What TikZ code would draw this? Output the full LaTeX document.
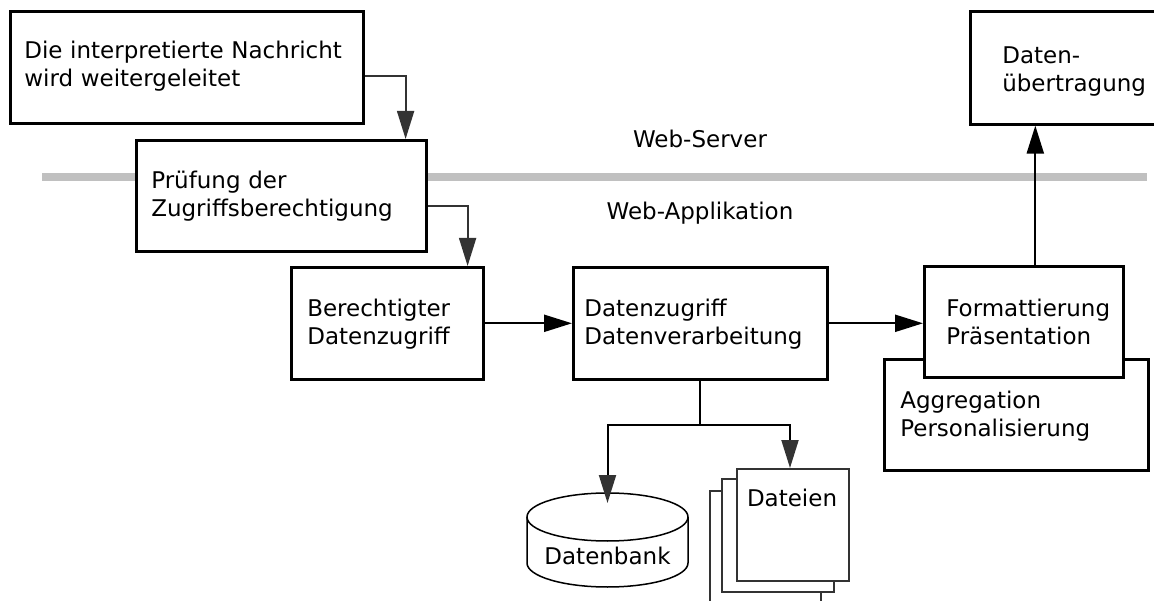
\documentclass[tikz,border=0pt]{standalone}
\usepackage{fontspec}
\setmainfont{DejaVu Sans}
\usetikzlibrary{arrows.meta,calc}
\definecolor{barfill}{HTML}{C0C0C0}
\definecolor{darkline}{HTML}{333333}
\begin{document}
\begin{tikzpicture}[x=1pt,y=-1pt,
  font=\fontsize{23pt}{28pt}\selectfont,
  box/.style={draw=black, line width=2.6pt, fill=white, anchor=north west,
    inner ysep=0pt, align=left},
  pagebox/.style={draw=darkline, line width=2pt, fill=white},
  arrblack/.style={draw=black, line width=2.2pt,
    -{Triangle[length=28pt,width=17pt]}},
  arrgray/.style={draw=darkline, line width=1.8pt,
    -{Triangle[length=28pt,width=17pt]}},
  arrsplit/.style={draw=black, line width=2pt,
    -{Triangle[length=28pt,width=17pt,color=darkline,fill=darkline]}},
  cyl/.style={draw=black, line width=1.5pt, fill=white}]

\useasboundingbox (0,0) rectangle (1154,601);
\fill[white] (0,0) rectangle (1154,601);
\clip (0,0) rectangle (1154,601);

% layer separator between web server and web application
\draw[barfill, line width=8pt] (42,177) -- (1147,177);
\node[anchor=base] (server) at (700,148) {Web-Server};
\node[anchor=base] (app) at (700,220) {Web-Applikation};

% processing steps
\node[box, inner xsep=14pt, text width=325pt, text height=47pt, text depth=65pt]
  (b1) at (9,10) {Die interpretierte Nachricht\\wird weitergeleitet};
\node[box, inner xsep=15pt, text width=260pt, text height=48pt, text depth=63pt]
  (b2) at (135,139) {Prüfung der\\Zugriffsberechtigung};
\node[box, inner xsep=16pt, text width=160pt, text height=49pt, text depth=63pt]
  (b3) at (290,266) {Berechtigter\\Datenzugriff};
\node[box, inner xsep=11pt, text width=232pt, text height=49pt, text depth=63pt]
  (b4) at (572,266) {Datenzugriff\\Datenverarbeitung};
\node[box, inner xsep=16pt, text width=232pt, text height=49pt, text depth=62pt]
  (b6) at (883,358) {Aggregation\\Personalisierung};
\node[box, inner xsep=22pt, text width=155pt, text height=50pt, text depth=61pt]
  (b5) at (923,265) {Formattierung\\Präsentation};
\node[box, inner xsep=32pt, text width=156pt, text height=52pt, text depth=61pt]
  (b7) at (969,10) {Daten-\\übertragung};

% database cylinder
\draw[cyl] (527,517) -- (527,563)
  .. controls (527,576.25) and (563.04,587) .. (607.5,587)
  .. controls (651.96,587) and (688,576.25) .. (688,563) -- (688,517);
\draw[cyl] (607.5,517) ellipse [x radius=80.5, y radius=24];
\node[anchor=north, inner sep=0pt, minimum width=161pt,
  text height=71pt, text depth=23pt] (db) at (607.5,493) {Datenbank};

% stacked file pages
\draw[pagebox] (710,491) rectangle (821,612);
\draw[pagebox] (722,479) rectangle (834,592);
\node[box, draw=darkline, line width=2pt, inner xsep=10pt, text width=92pt,
  text height=37pt, text depth=75pt] (dat) at (736,468) {Dateien};

% connectors
\draw[arrgray] ([yshift=-9pt]b1.east) -| ([xshift=-22pt]b2.north east);
\draw[arrgray] ([yshift=-10.5pt]b2.east) -| ([xshift=-17pt]b3.north east);
\draw[arrblack] (b3.east) -- (b4.west);
\draw[arrblack] (b4.east) -- (b4.east -| b5.west);
\draw[arrblack] ([xshift=11.5pt]b5.north) -- ([xshift=11.5pt]b5.north |- b7.south);
\coordinate (split) at ([yshift=-44pt]b4.south);
\draw[black, line width=2pt] (b4.south) -- (split);
\draw[arrsplit] (split) -| ([yshift=-10pt]db.north);
\draw[arrsplit] (split) -| ([xshift=-3pt]dat.north);
\end{tikzpicture}
\end{document}
